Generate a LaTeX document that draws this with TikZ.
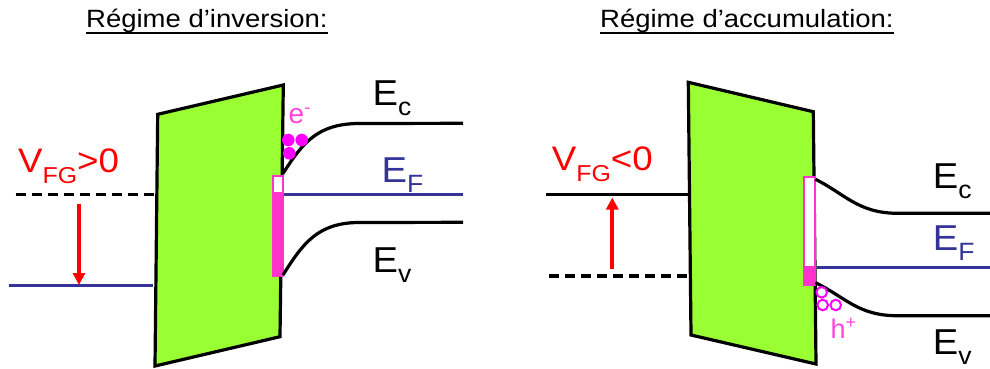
\documentclass[tikz,border=0pt]{standalone}
\usepackage{fontspec}
\setmainfont{Liberation Sans}
\usetikzlibrary{arrows.meta}
\definecolor{oxgreen}{HTML}{99FF33}
\definecolor{barpink}{HTML}{FF33CC}
\definecolor{elmag}{HTML}{FF00FF}
\definecolor{lblpink}{HTML}{FF44DD}
\definecolor{efblue}{HTML}{333399}
\definecolor{vred}{HTML}{FF0000}
\newcommand{\fs}[1]{\fontsize{#1}{#1}\selectfont}
\newcommand{\lvl}[3]{\scalebox{1.06}[1]{{\fs{36}#1}\raisebox{-#3pt}{\fs{25}#2}}}
\tikzset{
  oxide/.style={fill=oxgreen,draw=black,line width=3.2pt,line join=miter},
  band/.style={draw=black,line width=3.2pt},
  fermi/.style={draw=efblue,line width=3pt},
  dashlvl/.style={draw=black,line width=3.2pt,dash pattern=on 10pt off 6pt},
  varrow/.style={draw=vred,line width=3.8pt,-{Triangle[width=12pt,length=12pt]}},
  barempty/.style={draw=barpink,fill=white,line width=2pt},
  barfull/.style={draw=barpink,fill=barpink,line width=2pt},
  electron/.style={fill=elmag,draw=none},
  hole/.style={draw=elmag,line width=2pt,fill=white},
  lbl/.style={inner sep=0pt,anchor=base west},
  title/.style={inner sep=0pt,anchor=base west},
}
\begin{document}
\begin{tikzpicture}[x=1pt,y=-1pt]
\useasboundingbox (0,0) rectangle (990,368);
% ---------- titles ----------
\node[title] (t1) at (86,27) {\scalebox{1.1}[1]{\fs{25}Régime d’inversion:}};
\draw[line width=2pt] ([yshift=-5.5pt]t1.base west) -- ([yshift=-5.5pt]t1.base east);
\node[title] (t2) at (600,27) {\scalebox{1.1}[1]{\fs{25}Régime d’accumulation:}};
\draw[line width=2pt] ([yshift=-5.5pt]t2.base west) -- ([yshift=-5.5pt]t2.base east);

% ---------- left: inversion ----------
\coordinate (Lg1) at (15.7,194.3);
\coordinate (Lg2) at (156.7,194.3);
\coordinate (Lm1) at (9,285);
\coordinate (Lm2) at (153,285);
\draw[dashlvl] (Lg1) -- (Lg2);
\draw[fermi] (Lm1) -- (Lm2);
\draw[oxide] (157.7,114.3) -- (283.3,85) -- (280,336.7) -- (155,366) -- cycle;
\coordinate (La1) at (79,204);
\coordinate (La2) at (79,285);
\draw[varrow] (La1) -- (La2);
\node[lbl,text=vred] (vfg1) at (18,172) {\scalebox{1.08}[1]{{\fs{34}V}\raisebox{-11pt}{\fs{23}FG}{\fs{34}>0}}};

\draw[barempty] (272.7,175.7) rectangle (282.7,193.3);
\draw[barfull] (272.7,193.3) rectangle (282.7,276);
\draw[band] (283,173.5) .. controls (303,142) and (318,124) .. (358,123.5) -- (463,123.3);
\draw[band] (283,275) .. controls (303,243) and (318,223) .. (358,222.5) -- (463,222.3);
\draw[fermi] (284,194.3) -- (463,194.3);
\fill[electron] (288.3,140) circle (6.3);
\fill[electron] (301.7,140) circle (6.3);
\fill[electron] (289.3,153.3) circle (6.3);
\node[lbl,text=lblpink] (eminus) at (288.5,123.5) {{\fs{28}e}\raisebox{10pt}{\fs{18}-}};

\node[lbl] (Ec1) at (372.5,105.7) {\lvl{E}{c}{10}};
\node[lbl,text=efblue] (Ef1) at (381.5,182.7) {\lvl{E}{F}{10}};
\node[lbl] (Ev1) at (372.5,272) {\lvl{E}{v}{10}};

% ---------- right: accumulation ----------
\coordinate (Rg1) at (546,194.3);
\coordinate (Rg2) at (689,194.3);
\coordinate (Rd1) at (549,276);
\coordinate (Rd2) at (689,276);
\draw[band] (Rg1) -- (Rg2);
\draw[dashlvl] (Rd1) -- (Rd2);
\draw[oxide] (688.3,82.3) -- (813.3,111.7) -- (816,364) -- (691,335) -- cycle;
\coordinate (Ra1) at (612.3,269.3);
\coordinate (Ra2) at (612.3,197.5);
\draw[varrow] (Ra1) -- (Ra2);
\node[lbl,text=vred] (vfg2) at (551.7,170.7) {\scalebox{1.08}[1]{{\fs{34}V}\raisebox{-11pt}{\fs{23}FG}{\fs{34}<0}}};

\draw[barempty] (803.5,176.7) rectangle (815,266.7);
\draw[barfull] (803.5,266.7) rectangle (815,285);
\draw[band] (815.5,179.3) .. controls (845,194) and (858,213) .. (897,213.3) -- (990,213.3);
\draw[band] (815.5,282.7) .. controls (845,297) and (858,315.7) .. (897,315.7) -- (990,315.7);
\draw[fermi] (816.5,267.3) -- (990,267.3);
\draw[hole] (821.7,292.3) circle (5.3);
\draw[hole] (822.7,305) circle (5.3);
\draw[hole] (835.7,305) circle (5.3);
\node[lbl,text=lblpink] (hplus) at (830.5,338.5) {{\fs{27}h}\raisebox{10pt}{\fs{18}+}};

\node[lbl] (Ec2) at (932.7,188.3) {\lvl{E}{c}{10}};
\node[lbl,text=efblue] (Ef2) at (932.7,250) {\lvl{E}{F}{10}};
\node[lbl] (Ev2) at (932.7,354) {\lvl{E}{v}{10}};
\end{tikzpicture}
\end{document}
